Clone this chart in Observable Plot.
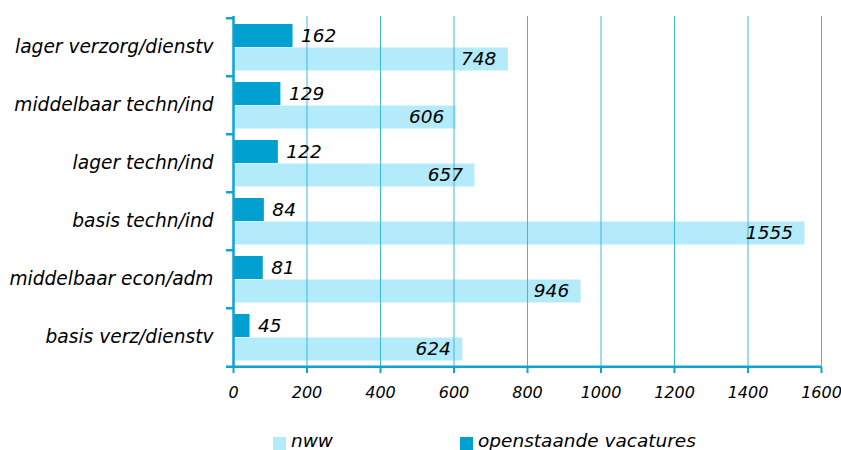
<!DOCTYPE html>
<html>
<head>
<meta charset="utf-8">
<script src="https://cdn.jsdelivr.net/npm/d3@7"></script>
<script src="https://cdn.jsdelivr.net/npm/@observablehq/plot@0.6"></script>
<style>
  html, body { margin: 0; padding: 0; background: #fff; }
  #wrap { position: relative; width: 841px; height: 450px; overflow: hidden; font-family: "DejaVu Sans", Verdana, sans-serif; font-style: italic; }
  .sw { position: absolute; top: 437px; width: 13px; height: 14px; }
  .lt { position: absolute; top: 431px; font-size: 18.5px; line-height: 20px; color: #000; }
</style>
</head>
<body>
<div id="wrap"></div>
<script>
const categories = ["lager verzorg/dienstv", "middelbaar techn/ind", "lager techn/ind", "basis techn/ind", "middelbaar econ/adm", "basis verz/dienstv"];
const vacatures = [162, 129, 122, 84, 81, 45];
const nww = [748, 606, 657, 1555, 946, 624];
const xTicks = [0, 200, 400, 600, 800, 1000, 1200, 1400, 1600];
const seriesNames = ["nww", "openstaande vacatures"];

const light = "#b3ebfb";
const dark = "#00a0d0";
const gridColor = "#3cb8e2";
const axisColor = "#0fa2d4";

const data = categories.map((c, i) => ({cat: c, vac: vacatures[i], nww: nww[i]}));
const marginTop = 16, marginBottom = 53, H = 420;
const bw = (H - marginTop - marginBottom) / categories.length;

const chart = Plot.plot({
  width: 841,
  height: H,
  marginLeft: 233,
  marginRight: 20,
  marginTop,
  marginBottom,
  x: {domain: [0, 1600]},
  y: {domain: categories, padding: 0},
  style: {fontFamily: "DejaVu Sans, Verdana, sans-serif", fontStyle: "italic", fontSize: "18px", color: "#000", background: "white"},
  marks: [
    Plot.barX(data, {y: "cat", x: "nww", fill: light, insetTop: 29.5, insetBottom: 5.5}),
    Plot.barX(data, {y: "cat", x: "vac", fill: dark, insetTop: 6, insetBottom: 29}),
    Plot.gridX(xTicks, {stroke: gridColor, strokeOpacity: 1, strokeWidth: 1}),
    Plot.ruleX([0], {stroke: axisColor, strokeWidth: 2.5}),
    Plot.ruleY([categories[categories.length - 1]], {dy: bw / 2, stroke: axisColor, strokeWidth: 2.5}),
    Plot.axisX({ticks: xTicks, tickSize: 6, tickPadding: 13, stroke: axisColor, strokeWidth: 2, fontSize: 16, tickFormat: d => String(d), label: null}),
    Plot.axisY({tickSize: 0, tickPadding: 20, label: null, fontSize: 18.6}),
    Plot.axisY({tickSize: 7, text: null, label: null, dy: -bw / 2, stroke: axisColor, strokeWidth: 2.5}),
    Plot.axisY({ticks: [categories[categories.length - 1]], tickSize: 7, text: null, label: null, dy: bw / 2, stroke: axisColor, strokeWidth: 2.5}),
    Plot.text(data, {y: "cat", x: "vac", text: d => String(d.vac), dx: 8, dy: -11.5, textAnchor: "start", fontSize: 18.5}),
    Plot.text(data, {y: "cat", x: "nww", text: d => String(d.nww), dx: -12, dy: 12, textAnchor: "end", fontSize: 18.5})
  ]
});

const wrap = document.getElementById("wrap");
wrap.appendChild(chart);
const legendItems = [
  {name: seriesNames[0], color: light, left: 273},
  {name: seriesNames[1], color: dark, left: 460}
];
for (const it of legendItems) {
  const sw = document.createElement("div");
  sw.className = "sw";
  sw.style.left = it.left + "px";
  sw.style.background = it.color;
  wrap.appendChild(sw);
  const t = document.createElement("div");
  t.className = "lt";
  t.style.left = (it.left + 18) + "px";
  t.textContent = it.name;
  wrap.appendChild(t);
}
</script>
</body>
</html>
